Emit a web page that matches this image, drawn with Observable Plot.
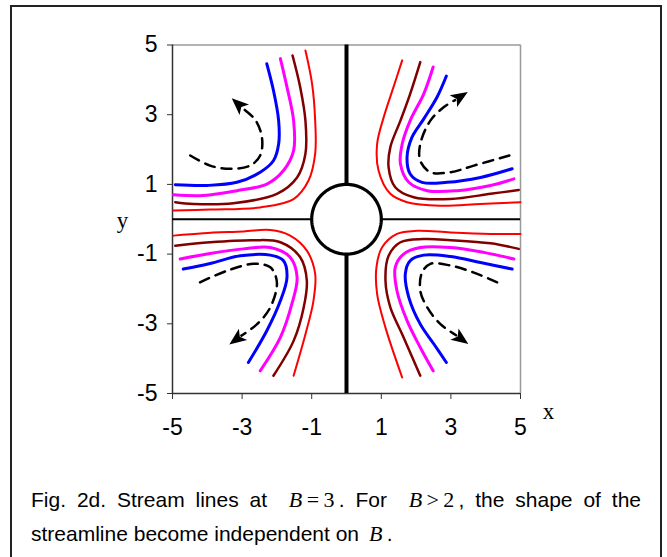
<!DOCTYPE html>
<html>
<head>
<meta charset="utf-8">
<script src="https://cdn.jsdelivr.net/npm/d3@7"></script>
<script src="https://cdn.jsdelivr.net/npm/@observablehq/plot@0.6"></script>
<style>
  html, body { margin: 0; padding: 0; background: #fff; overflow: hidden; }
  #frame { position: absolute; left: 10px; top: 5px; width: 652px; height: 580px;
           border: 2px solid #222; box-sizing: border-box; }
  #chart { position: absolute; left: 0; top: 0; }
  #caption { position: absolute; left: 31px; top: 483px; width: 610px;
             font-family: "Liberation Sans", Arial, sans-serif; font-size: 21px;
             line-height: 34px; color: #000; }
  #caption .l1 { text-align: justify; text-align-last: justify; }
  #caption .m { font-family: "Liberation Serif", "Times New Roman", serif; font-size: 22px; }
</style>
</head>
<body>
<div id="frame"></div>
<div id="chart"></div>
<div id="caption">
  <div class="l1">Fig. 2d. Stream lines at &nbsp;<span class="m"><i>B</i>&#8201;=&#8201;3</span>&#8201;. For &nbsp;<span class="m"><i>B</i>&#8201;&gt;&#8201;2</span>&#8201;, the shape of the</div>
  <div>streamline become independent on &#8201;<span class="m"><i>B</i></span>&#8201;.</div>
</div>
<script>
// Axis extents and tick values
const xDomain = [-5, 5];
const yDomain = [-5, 5];
const tickValues = [-5, -3, -1, 1, 3, 5];
const cylinderRadius = 1;

// Streamlines, upper-right quadrant
const redTR     = [[1.60,4.56],[1.35,3.79],[1.07,2.93],[0.88,2.16],[0.92,1.40],[1.26,0.73],[1.74,0.49],[2.70,0.39],[3.85,0.44],[5.00,0.49]];
const maroonTR  = [[2.12,4.51],[1.83,3.60],[1.55,2.83],[1.26,2.07],[1.21,1.49],[1.40,0.92],[1.93,0.63],[2.99,0.58],[4.14,0.73],[4.95,0.84]];
const magentaTR = [[2.49,4.37],[2.22,3.60],[1.83,2.83],[1.60,2.16],[1.55,1.59],[1.79,1.06],[2.32,0.82],[3.18,0.82],[4.14,0.97],[4.81,1.16]];
const blueTR    = [[2.87,4.11],[2.60,3.50],[2.22,2.88],[1.88,2.35],[1.74,1.78],[1.83,1.30],[2.17,1.06],[2.89,1.06],[3.85,1.20],[4.76,1.45]];

// Streamlines, upper-left quadrant
const redTL     = [[-1.18,4.84],[-0.99,3.89],[-0.90,2.83],[-0.90,1.88],[-1.09,1.11],[-1.52,0.58],[-2.48,0.34],[-3.92,0.28],[-4.97,0.25]];
const maroonTL  = [[-1.55,4.70],[-1.33,3.79],[-1.18,2.83],[-1.18,1.88],[-1.42,1.20],[-2.00,0.73],[-3.25,0.46],[-4.40,0.44],[-4.92,0.49]];
const magentaTL = [[-1.90,4.61],[-1.71,3.79],[-1.52,2.83],[-1.52,1.97],[-1.81,1.40],[-2.29,1.01],[-3.15,0.82],[-4.11,0.68],[-4.97,0.70]];
const blueTL    = [[-2.29,4.46],[-2.10,3.70],[-1.95,2.83],[-1.95,2.16],[-2.10,1.68],[-2.48,1.35],[-3.15,1.06],[-4.01,0.97],[-4.92,0.99]];

// Streamlines, lower-left quadrant
const redBL     = [[-4.97,-0.47],[-4.11,-0.40],[-2.96,-0.35],[-2.19,-0.31],[-1.62,-0.47],[-1.14,-0.90],[-0.90,-1.57],[-0.95,-2.34],[-1.18,-3.30],[-1.52,-4.49]];
const maroonBL  = [[-4.92,-0.76],[-3.92,-0.66],[-2.67,-0.60],[-1.90,-0.66],[-1.33,-1.09],[-1.14,-1.76],[-1.23,-2.53],[-1.52,-3.49],[-2.10,-4.49]];
const magentaBL = [[-4.78,-1.14],[-3.92,-0.98],[-2.96,-0.85],[-2.19,-0.81],[-1.62,-1.09],[-1.42,-1.67],[-1.57,-2.43],[-1.90,-3.39],[-2.48,-4.35]];
const blueBL    = [[-4.69,-1.43],[-3.92,-1.27],[-3.05,-1.05],[-2.19,-1.03],[-1.81,-1.19],[-1.71,-1.67],[-1.90,-2.34],[-2.29,-3.20],[-2.82,-4.11]];

// Streamlines, lower-right quadrant
const redBR     = [[5.00,-0.42],[4.14,-0.42],[2.99,-0.38],[2.03,-0.33],[1.45,-0.42],[1.02,-0.81],[0.86,-1.38],[0.88,-2.15],[1.12,-3.11],[1.60,-4.54]];
const maroonBR  = [[4.95,-0.85],[4.14,-0.69],[2.99,-0.60],[2.22,-0.57],[1.55,-0.66],[1.21,-1.05],[1.12,-1.76],[1.26,-2.53],[1.60,-3.30],[2.12,-4.49]];
const magentaBR = [[4.81,-1.14],[3.94,-0.95],[2.99,-0.81],[2.12,-0.81],[1.64,-1.00],[1.40,-1.38],[1.45,-2.05],[1.74,-2.91],[2.12,-3.68],[2.49,-4.35]];
const blueBR    = [[4.76,-1.43],[3.85,-1.24],[2.99,-1.07],[2.22,-1.03],[1.83,-1.19],[1.69,-1.57],[1.79,-2.24],[2.12,-3.01],[2.51,-3.58],[2.87,-4.11]];

// Dashed flow-direction guides (each ends where its arrowhead begins)
const flowTR = [[4.68,1.83],[3.66,1.54],[2.99,1.35],[2.41,1.35],[2.12,1.68],[2.12,2.16],[2.41,2.83],[2.80,3.22],[3.12,3.42]];
const flowTL = [[-4.49,1.83],[-3.92,1.54],[-3.34,1.45],[-2.77,1.54],[-2.48,1.83],[-2.43,2.35],[-2.62,2.85],[-2.98,3.18]];
const flowBL = [[-4.21,-1.81],[-3.44,-1.48],[-2.67,-1.28],[-2.19,-1.38],[-2.00,-1.81],[-2.19,-2.53],[-2.57,-3.01],[-3.02,-3.34]];
const flowBR = [[4.33,-1.81],[3.66,-1.53],[2.99,-1.33],[2.41,-1.28],[2.17,-1.53],[2.12,-2.05],[2.32,-2.53],[2.70,-3.01],[3.15,-3.33]];

const streamStyles = [
  {color: "#ff0000", width: 2,   lines: [redTR, redTL, redBL, redBR]},
  {color: "#800000", width: 2.5, lines: [maroonTR, maroonTL, maroonBL, maroonBR]},
  {color: "#ff00ff", width: 3,   lines: [magentaTR, magentaTL, magentaBL, magentaBR]},
  {color: "#0000ff", width: 3,   lines: [blueTR, blueTL, blueBL, blueBR]}
];
const flows = [flowTR, flowTL, flowBL, flowBR];

// Arrowhead at the end of each guide, turned along its final segment
const arrowHeads = flows.map(f => {
  const [x0, y0] = f[f.length - 2], [x1, y1] = f[f.length - 1];
  return {x: x1, y: y1, angle: Math.atan2(x1 - x0, y1 - y0) * 180 / Math.PI};
});
const arrowSymbol = {
  draw(ctx) {
    ctx.moveTo(0, -15);
    ctx.lineTo(7, 2);
    ctx.lineTo(0, -2);
    ctx.lineTo(-7, 2);
    ctx.closePath();
  }
};

// Cylinder outline
const cylinder = d3.range(0, 360, 3).map(a => [
  cylinderRadius * Math.cos(a * Math.PI / 180),
  cylinderRadius * Math.sin(a * Math.PI / 180)
]);

const fmt = d => String(d);
const marks = [
  // plot frame: grey top/right, dark left/bottom axes
  Plot.ruleY([yDomain[1]], {stroke: "#999", strokeWidth: 1.5}),
  Plot.ruleX([xDomain[1]], {stroke: "#999", strokeWidth: 1.5}),
  Plot.ruleX([xDomain[0]], {stroke: "#333", strokeWidth: 1.5}),
  Plot.ruleY([yDomain[0]], {stroke: "#333", strokeWidth: 1.5}),
  Plot.axisX({ticks: tickValues, tickSize: 6, tickPadding: 19, tickFormat: fmt, stroke: "#333", fill: "#000", fontSize: 23}),
  Plot.axisY({ticks: tickValues, tickSize: 5, tickPadding: 10, tickFormat: fmt, stroke: "#333", fill: "#000", fontSize: 23}),
  // symmetry axes and the cylinder
  Plot.ruleY([0], {x1: xDomain[0], x2: -cylinderRadius, stroke: "#000", strokeWidth: 2.2}),
  Plot.ruleY([0], {x1: cylinderRadius, x2: xDomain[1], stroke: "#000", strokeWidth: 2.2}),
  Plot.ruleX([0], {y1: cylinderRadius, y2: yDomain[1], stroke: "#000", strokeWidth: 4}),
  Plot.ruleX([0], {y1: -cylinderRadius, y2: yDomain[0], stroke: "#000", strokeWidth: 4}),
  Plot.line(cylinder, {curve: "linear-closed", stroke: "#000", strokeWidth: 3.2, fill: "#fff"})
];
for (const s of streamStyles) {
  for (const pts of s.lines) {
    marks.push(Plot.line(pts, {curve: "catmull-rom", stroke: s.color, strokeWidth: s.width}));
  }
}
for (const f of flows) {
  marks.push(Plot.line(f, {curve: "catmull-rom", stroke: "#000", strokeWidth: 2.5, strokeDasharray: "10,7"}));
}
marks.push(Plot.dot(arrowHeads, {x: "x", y: "y", rotate: "angle", symbol: arrowSymbol, fill: "#000", stroke: null, r: 6}));
marks.push(Plot.text(["x"], {frameAnchor: "bottom-right", dx: 28, dy: 18, textAnchor: "middle", lineAnchor: "middle",
  fontFamily: "Liberation Serif, Times New Roman, serif", fontSize: 23}));
marks.push(Plot.text(["y"], {frameAnchor: "left", dx: -50, dy: 1, textAnchor: "middle", lineAnchor: "middle",
  fontFamily: "Liberation Serif, Times New Roman, serif", fontSize: 23}));

const chart = Plot.plot({
  width: 667,
  height: 460,
  marginLeft: 172,
  marginRight: 147,
  marginTop: 44.5,
  marginBottom: 67,
  x: {domain: xDomain, label: null},
  y: {domain: yDomain, label: null},
  style: {fontFamily: "Liberation Sans, Arial, sans-serif", fontSize: "23px", background: "transparent", color: "#000"},
  marks
});
document.getElementById("chart").appendChild(chart);
</script>
</body>
</html>
